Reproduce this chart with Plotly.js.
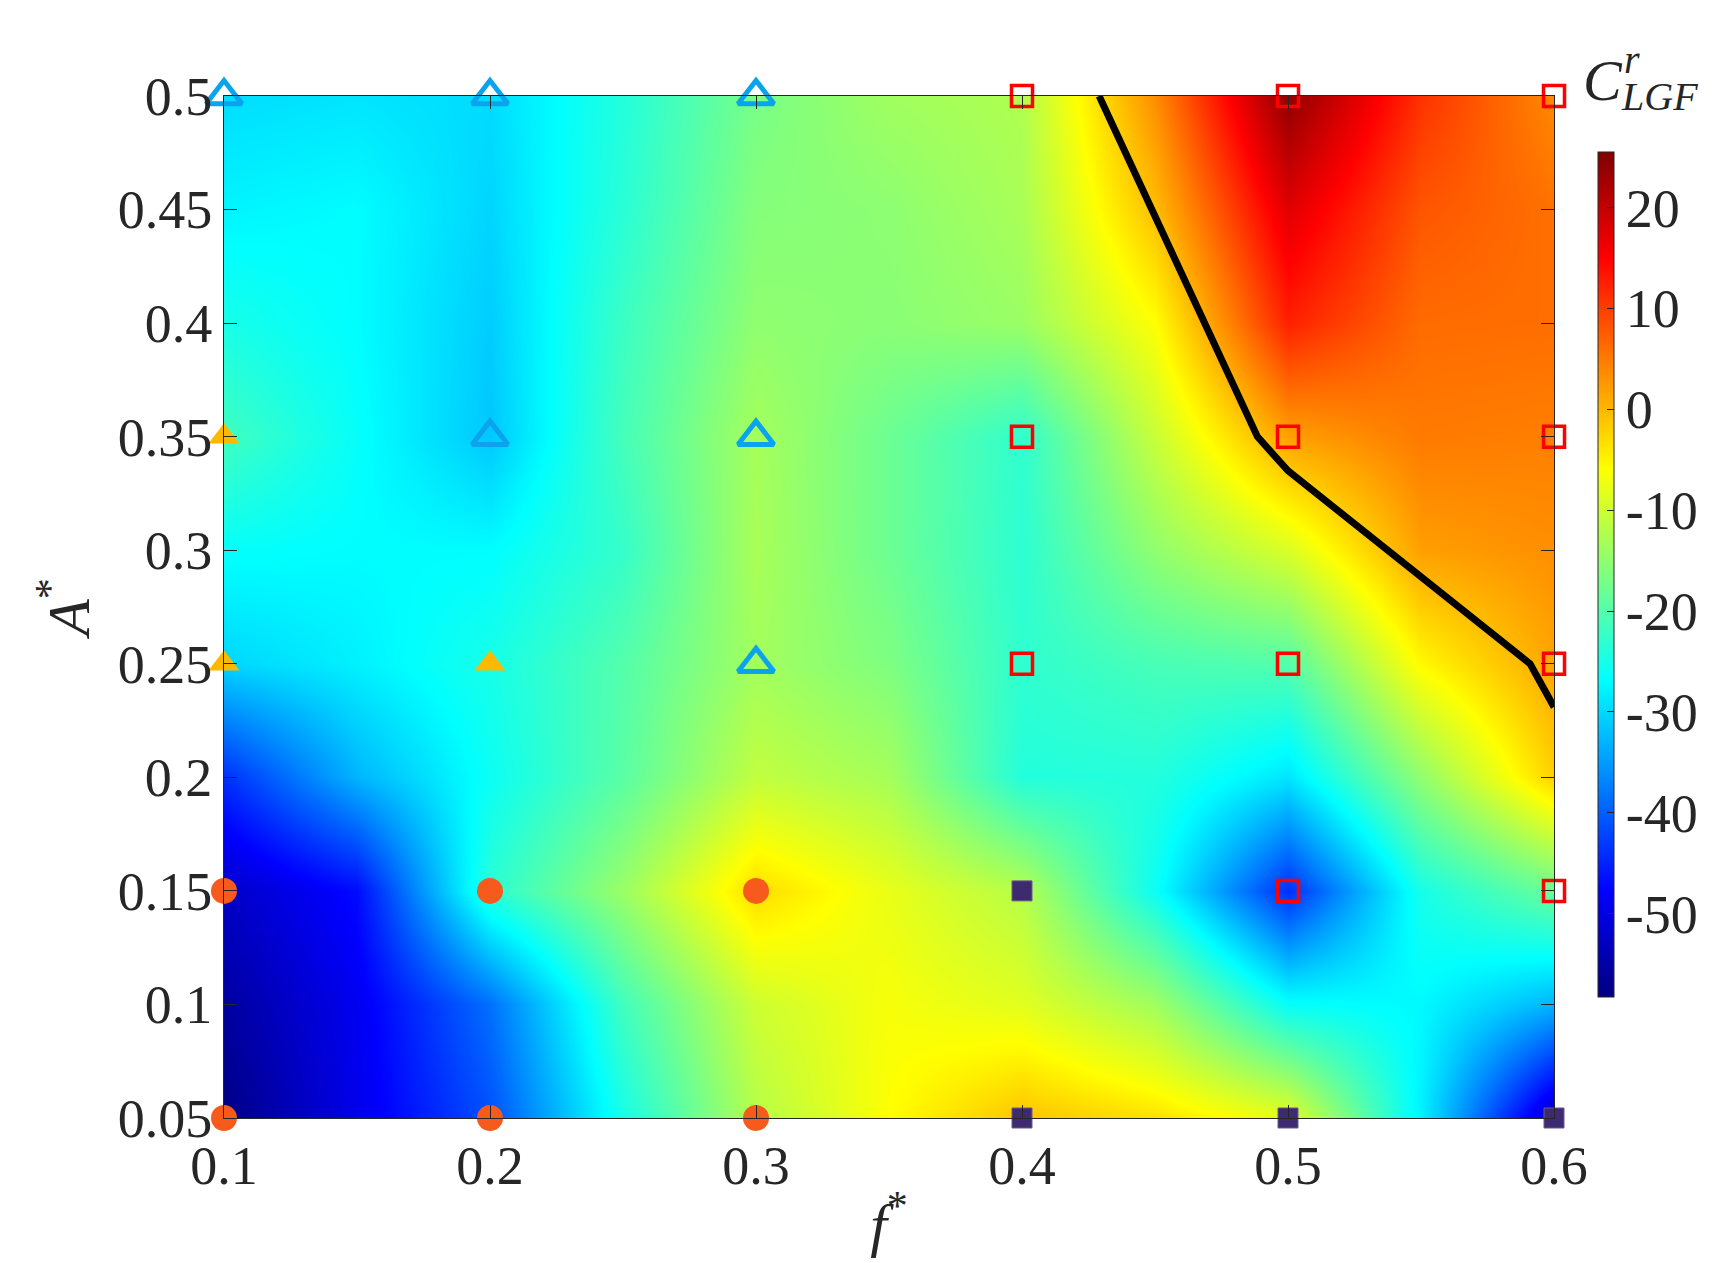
<!DOCTYPE html>
<html>
<head>
<meta charset="utf-8">
<script src="https://cdn.plot.ly/plotly-3.0.1.min.js"></script>
<style>
  html, body { margin: 0; padding: 0; background: #ffffff; }
  #chart { width: 1718px; height: 1263px; }
</style>
</head>
<body>
<div id="chart"></div>
<script>
// sampled field of C^r_LGF, one row per A* value (f* = 0.1 ... 0.6 step 0.05)
var fGrid = [0.1, 0.15, 0.2, 0.25, 0.3, 0.35, 0.4, 0.45, 0.5, 0.55, 0.6];
var aGrid = [0.05, 0.1, 0.15, 0.2, 0.25, 0.3, 0.35, 0.4, 0.45, 0.5];

var rowA005 = [-58, -49.5, -41.3, -25, -12, -6, -1, -3.5, -8, -28, -53];
var rowA010 = [-55.7, -49, -38.6, -21.5, -10, -6.6, -8.4, -13.7, -26.5, -27.3, -33];
var rowA015 = [-52.5, -47, -23.5, -14.2, -3, -7.8, -12, -26, -44, -25, -18];
var rowA020 = [-44, -33, -26, -19.5, -11, -13.3, -24, -24, -29, -15, -2];
var rowA025 = [-30.3, -28, -25, -20, -13.5, -16.5, -23, -21, -20, -5.5, 1.5];
var rowA030 = [-26.5, -27, -27, -22.5, -13, -18, -23.2, -15, -9, 2, 3.3];
var rowA035 = [-21.5, -26.5, -31.5, -21.2, -13.3, -18, -22.9, -10.5, 1.8, 5, 4.6];
var rowA040 = [-25, -27, -31, -22, -15.1, -15.6, -14.2, -6, 12.4, 6.2, 6];
var rowA045 = [-27.7, -27, -30.3, -23.5, -16, -15.3, -13, -0.5, 17.5, 8, 5.8];
var rowA050 = [-29.6, -29, -29.8, -24, -17, -13.7, -12.5, 3.5, 24.3, 11, 3.7];

// boundary line
var lineF = [0.429, 0.4885, 0.5, 0.591, 0.6];
var lineA = [0.5, 0.35, 0.335, 0.25, 0.231];

// experiment markers
var openTriF = [0.1, 0.2, 0.3, 0.2, 0.3, 0.3];
var openTriA = [0.5, 0.5, 0.5, 0.35, 0.35, 0.25];
var fillTriF = [0.1, 0.1, 0.2];
var fillTriA = [0.35, 0.25, 0.25];
var circF = [0.1, 0.2, 0.3, 0.1, 0.2, 0.3];
var circA = [0.15, 0.15, 0.15, 0.05, 0.05, 0.05];
var openSqF = [0.4, 0.5, 0.6, 0.4, 0.5, 0.6, 0.4, 0.5, 0.6, 0.5, 0.6];
var openSqA = [0.5, 0.5, 0.5, 0.35, 0.35, 0.35, 0.25, 0.25, 0.25, 0.15, 0.15];
var fillSqF = [0.4, 0.4, 0.5, 0.6];
var fillSqA = [0.15, 0.05, 0.05, 0.05];

var xTicks = [0.1, 0.2, 0.3, 0.4, 0.5, 0.6];
var xTickText = ["0.1", "0.2", "0.3", "0.4", "0.5", "0.6"];
var yTicks = [0.05, 0.1, 0.15, 0.2, 0.25, 0.3, 0.35, 0.4, 0.45, 0.5];
var yTickText = ["0.05", "0.1", "0.15", "0.2", "0.25", "0.3", "0.35", "0.4", "0.45", "0.5"];
var cbTicks = [20, 10, 0, -10, -20, -30, -40, -50];
var cbTickText = ["20", "10", "0", "-10", "-20", "-30", "-40", "-50"];

var JET = [
  [0, "#000080"], [0.125, "#0000ff"], [0.375, "#00ffff"],
  [0.625, "#ffff00"], [0.875, "#ff0000"], [1, "#800000"]
];
var SERIF = "Liberation Serif, Times New Roman, serif";
var INK = "#262626";
var TICK_SIZE = 54;

// plot box in pixels, used to place colorbar and its label
var L = 224, R = 1554, T = 96, B = 1118;
var px = function(x) { return (x - L) / (R - L); };
var py = function(y) { return (B - y) / (B - T); };

var markerTrace = function(xs, ys, marker) {
  return { type: "scatter", mode: "markers", x: xs, y: ys, marker: marker,
           cliponaxis: false, hoverinfo: "skip", showlegend: false };
};

var data = [
  {
    type: "heatmap",
    x: fGrid,
    y: aGrid,
    z: [rowA005, rowA010, rowA015, rowA020, rowA025, rowA030, rowA035, rowA040, rowA045, rowA050],
    zsmooth: "best",
    colorscale: JET,
    zmin: -58.3,
    zmax: 25.5,
    hoverinfo: "skip",
    colorbar: {
      thickness: 16, thicknessmode: "pixels",
      len: 845, lenmode: "pixels",
      x: px(1598), xanchor: "left", xpad: 0,
      y: py(574.8), yanchor: "middle", ypad: 0,
      outlinewidth: 1, outlinecolor: INK,
      ticks: "inside", ticklen: 7, tickcolor: INK, tickwidth: 1,
      tickvals: cbTicks, ticktext: cbTickText,
      tickfont: { family: SERIF, size: TICK_SIZE, color: INK }
    }
  },
  {
    type: "scatter", mode: "lines", x: lineF, y: lineA,
    line: { color: "#000000", width: 7 }, hoverinfo: "skip", showlegend: false
  },
  markerTrace(openTriF, openTriA, { symbol: "triangle-up-open", size: 31, color: "#0BA3EE", line: { color: "#0BA3EE", width: 5 } }),
  markerTrace(fillTriF, fillTriA, { symbol: "triangle-up", size: 27, color: "#FFB800", line: { width: 0 } }),
  markerTrace(circF, circA, { symbol: "circle", size: 26, color: "#F75A1D", line: { width: 0 } }),
  markerTrace(openSqF, openSqA, { symbol: "square-open", size: 21, color: "#FF0000", line: { color: "#FF0000", width: 3.5 } }),
  markerTrace(fillSqF, fillSqA, { symbol: "square", size: 20, color: "#3E2A6E", line: { color: "#6a5a8e", width: 1 } })
];

var axisCommon = {
  ticks: "inside", ticklen: 13, tickwidth: 1, tickcolor: INK,
  showline: true, linecolor: INK, linewidth: 1, mirror: "ticks",
  showgrid: false, zeroline: false,
  tickfont: { family: SERIF, size: TICK_SIZE, color: INK }
};

var layout = {
  width: 1718,
  height: 1263,
  margin: { l: L, r: 1718 - R, t: T, b: 1263 - B },
  paper_bgcolor: "#ffffff",
  plot_bgcolor: "#ffffff",
  showlegend: false,
  xaxis: Object.assign({}, axisCommon, {
    range: [0.1, 0.6], tickvals: xTicks, ticktext: xTickText,
    title: { text: "<i>f</i><sup>*</sup>", font: { family: SERIF, size: 60, color: INK }, standoff: 8 }
  }),
  yaxis: Object.assign({}, axisCommon, {
    range: [0.05, 0.5], tickvals: yTicks, ticktext: yTickText,
    title: { text: "<i>A</i><sup>*</sup>", font: { family: SERIF, size: 60, color: INK }, standoff: 8 }
  }),
  annotations: [
    { xref: "paper", yref: "paper", x: px(1581), y: py(80), xanchor: "left", yanchor: "middle",
      text: "<i>C</i>", showarrow: false, font: { family: SERIF, size: 58, color: INK } },
    { xref: "paper", yref: "paper", x: px(1622), y: py(60), xanchor: "left", yanchor: "middle",
      text: "<i>r</i>", showarrow: false, font: { family: SERIF, size: 40, color: INK } },
    { xref: "paper", yref: "paper", x: px(1619), y: py(97), xanchor: "left", yanchor: "middle",
      text: "<i>LGF</i>", showarrow: false, font: { family: SERIF, size: 40, color: INK } }
  ]
};

Plotly.newPlot(document.getElementById("chart"), data, layout, {
  displayModeBar: false,
  staticPlot: true
});
</script>
</body>
</html>
